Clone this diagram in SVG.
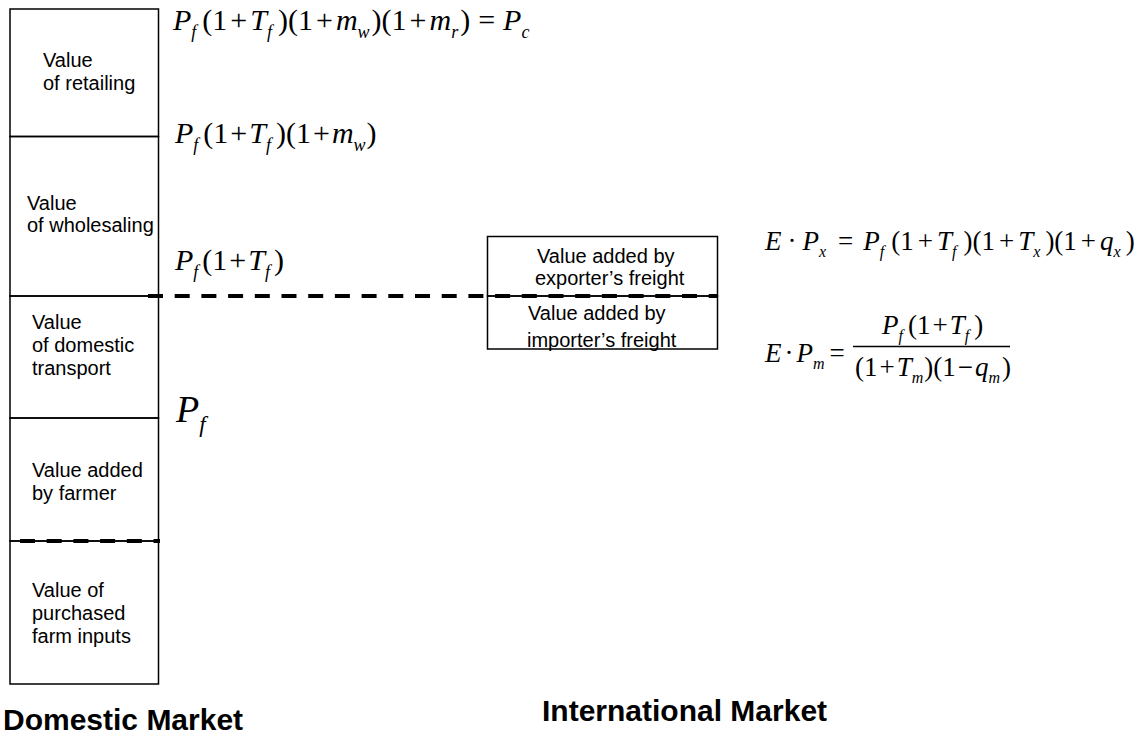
<svg xmlns="http://www.w3.org/2000/svg" width="1146" height="737" viewBox="0 0 1146 737">
<style>
.box{fill:none;stroke:#000;stroke-width:1.5}
.lbl{font-family:"Liberation Sans",Arial,sans-serif;font-size:20px;fill:#000}
.big{font-family:"Liberation Sans",Arial,sans-serif;font-size:30px;font-weight:bold;fill:#000}
.m{font-family:"Liberation Serif","Times New Roman",serif;fill:#000}
.i{font-style:italic}
.dash{fill:none;stroke:#000;stroke-width:4;stroke-dasharray:15 11.7}
</style>
<rect width="1146" height="737" fill="#fff"/>
<g id="retailing">
<rect class="box" x="10" y="9" width="148.5" height="127.5"/>
<text class="lbl" x="43" y="67">Value</text>
<text class="lbl" x="43" y="90">of retailing</text>
</g>
<g id="wholesaling">
<rect class="box" x="10" y="136.5" width="148.5" height="159.5"/>
<text class="lbl" x="27" y="210">Value</text>
<text class="lbl" x="27" y="232">of wholesaling</text>
</g>
<g id="transport">
<rect class="box" x="10" y="296" width="148.5" height="122"/>
<text class="lbl" x="32" y="329">Value</text>
<text class="lbl" x="32" y="352">of domestic</text>
<text class="lbl" x="32" y="375">transport</text>
</g>
<g id="farmer">
<rect class="box" x="10" y="418" width="148.5" height="123"/>
<text class="lbl" x="32" y="477">Value added</text>
<text class="lbl" x="32" y="500">by farmer</text>
</g>
<g id="inputs">
<rect class="box" x="10" y="541" width="148.5" height="143"/>
<text class="lbl" x="32" y="597">Value of</text>
<text class="lbl" x="32" y="620">purchased</text>
<text class="lbl" x="32" y="643">farm inputs</text>
</g>
<g id="exporter">
<rect class="box" x="487.5" y="236.5" width="230" height="59.5"/>
<text class="lbl" x="537" y="263">Value added by</text>
<text class="lbl" x="535" y="285">exporter’s freight</text>
</g>
<g id="importer">
<rect class="box" x="487.5" y="296" width="230" height="53"/>
<text class="lbl" x="528" y="320">Value added by</text>
<text class="lbl" x="527" y="347">importer’s freight</text>
</g>
<g id="connectors">
<line class="dash" x1="148" y1="296" x2="718" y2="296"/>
<line class="dash" x1="20" y1="541" x2="160" y2="541"/>
</g>
<g id="formulas">
<text class="m" x="173" y="30" font-size="30"><tspan class="i">P</tspan><tspan class="i" font-size="18" dy="8">f</tspan><tspan dy="-8" dx="6">(1</tspan><tspan dx="3">+</tspan><tspan class="i" dx="3">T</tspan><tspan class="i" font-size="18" dy="8">f</tspan><tspan dy="-8" dx="6">)(1</tspan><tspan dx="3">+</tspan><tspan class="i" dx="3">m</tspan><tspan class="i" font-size="18" dy="8">w</tspan><tspan dy="-8" dx="2">)(1</tspan><tspan dx="3">+</tspan><tspan class="i" dx="3">m</tspan><tspan class="i" font-size="18" dy="8">r</tspan><tspan dy="-8" dx="2">)</tspan><tspan dx="8">=</tspan><tspan class="i" dx="8">P</tspan><tspan class="i" font-size="18" dy="8">c</tspan></text>
<text class="m" x="175" y="143" font-size="30"><tspan class="i">P</tspan><tspan class="i" font-size="18" dy="8">f</tspan><tspan dy="-8" dx="5">(1</tspan><tspan dx="2">+</tspan><tspan class="i" dx="2">T</tspan><tspan class="i" font-size="18" dy="8">f</tspan><tspan dy="-8" dx="5">)(1</tspan><tspan dx="2">+</tspan><tspan class="i" dx="2">m</tspan><tspan class="i" font-size="18" dy="8">w</tspan><tspan dy="-8" dx="1">)</tspan></text>
<text class="m" x="175" y="270" font-size="30"><tspan class="i">P</tspan><tspan class="i" font-size="18" dy="8">f</tspan><tspan dy="-8" dx="4">(1</tspan><tspan dx="2">+</tspan><tspan class="i" dx="2">T</tspan><tspan class="i" font-size="18" dy="8">f</tspan><tspan dy="-8" dx="4">)</tspan></text>
<text class="m" x="176" y="422" font-size="38"><tspan class="i">P</tspan><tspan class="i" font-size="23" dy="10">f</tspan></text>
<text class="m" x="765" y="250" font-size="27"><tspan class="i">E</tspan><tspan dx="6">·</tspan><tspan class="i" dx="6">P</tspan><tspan class="i" font-size="16" dy="7">x</tspan><tspan dy="-7" dx="12">=</tspan><tspan class="i" dx="10">P</tspan><tspan class="i" font-size="16" dy="7">f</tspan><tspan dy="-7" dx="7">(1</tspan><tspan dx="4">+</tspan><tspan class="i" dx="4">T</tspan><tspan class="i" font-size="16" dy="7">f</tspan><tspan dy="-7" dx="7">)(1</tspan><tspan dx="4">+</tspan><tspan class="i" dx="4">T</tspan><tspan class="i" font-size="16" dy="7">x</tspan><tspan dy="-7" dx="5">)(1</tspan><tspan dx="4">+</tspan><tspan class="i" dx="4">q</tspan><tspan class="i" font-size="16" dy="7">x</tspan><tspan dy="-7" dx="5">)</tspan></text>
<text class="m" x="765" y="362" font-size="27"><tspan class="i">E</tspan><tspan dx="3">·</tspan><tspan class="i" dx="3">P</tspan><tspan class="i" font-size="16" dy="7">m</tspan><tspan dy="-7" dx="5">=</tspan></text>
<line x1="853" y1="346.5" x2="1010" y2="346.5" stroke="#000" stroke-width="1.3"/>
<text class="m" x="882" y="334" font-size="27"><tspan class="i">P</tspan><tspan class="i" font-size="16" dy="7">f</tspan><tspan dy="-7" dx="5">(1</tspan><tspan dx="2">+</tspan><tspan class="i" dx="2">T</tspan><tspan class="i" font-size="16" dy="7">f</tspan><tspan dy="-7" dx="5">)</tspan></text>
<text class="m" x="855" y="376" font-size="27"><tspan>(1</tspan><tspan dx="2">+</tspan><tspan class="i" dx="2">T</tspan><tspan class="i" font-size="16" dy="7">m</tspan><tspan dy="-7" dx="1">)(1</tspan><tspan dx="2">−</tspan><tspan class="i" dx="2">q</tspan><tspan class="i" font-size="16" dy="7">m</tspan><tspan dy="-7" dx="2">)</tspan></text>
</g>
<g id="titles">
<text class="big" x="3" y="730">Domestic Market</text>
<text class="big" x="542" y="721">International Market</text>
</g>
</svg>
